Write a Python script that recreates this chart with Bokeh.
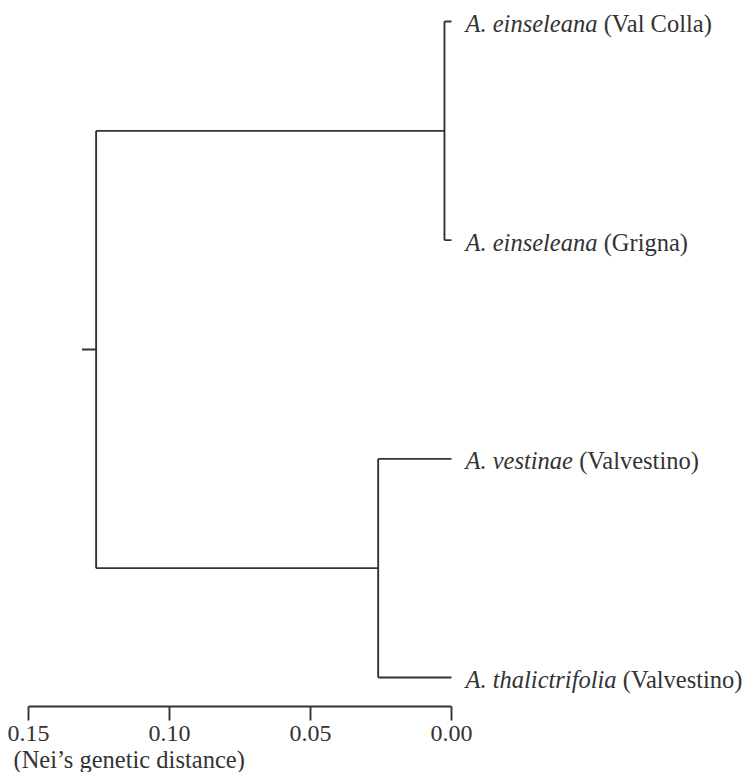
from bokeh.plotting import figure
from bokeh.models import Range1d, FixedTicker, PrintfTickFormatter, Title, ColumnDataSource
from bokeh.core.properties import value
from bokeh.embed import file_html
from bokeh.resources import INLINE

# ---- data ----
species = ["A. einseleana", "A. einseleana", "A. vestinae", "A. thalictrifolia"]
localities = ["(Val Colla)", "(Grigna)", "(Valvestino)", "(Valvestino)"]
leaf_pos = [0, 1, 2, 3]
h_einseleana = 0.0025   # A. einseleana (Val Colla) + (Grigna)
h_vest_thal = 0.026     # A. vestinae + A. thalictrifolia
h_root = 0.126          # root join
root_stub = 0.005
tick_values = [0.15, 0.10, 0.05, 0.00]
axis_title = "(Nei\u2019s genetic distance)"

# merges: (name, child a, child b, height)
merges = [("E", "L0", "L1", h_einseleana),
          ("V", "L2", "L3", h_vest_thal),
          ("R", "E", "V", h_root)]

# ---- build segments from tree ----
nodes = {f"L{i}": (leaf_pos[i], 0.0) for i in range(len(leaf_pos))}
x0, y0, x1, y1 = [], [], [], []
for name, a, b, h in merges:
    ya, ha = nodes[a]
    yb, hb = nodes[b]
    x0 += [h, ha, hb]; y0 += [ya, ya, yb]
    x1 += [h, h, h];   y1 += [yb, ya, yb]
    nodes[name] = ((ya + yb) / 2, h)
ry, rh = nodes["R"]
x0.append(rh); y0.append(ry); x1.append(rh + root_stub); y1.append(ry)

# ---- label offsets (Times-compatible italic widths, per 1000 em) ----
FS = 24.5
ital_w = {"A": 611, ".": 250, " ": 250, "e": 444, "i": 278, "n": 500, "s": 389,
          "l": 278, "a": 500, "v": 444, "t": 278, "h": 500, "c": 444, "r": 389,
          "f": 278, "o": 500}
def iw(s):
    return sum(ital_w.get(c, 500) for c in s) * FS / 1000.0

lead = 14
src = ColumnDataSource(dict(
    x=[0.0] * len(species), y=leaf_pos, sp=species, loc=localities,
    off1=[lead] * len(species),
    off2=[lead + iw(s) + 0.25 * FS for s in species]))

INK = "#333333"
p = figure(frame_width=748, frame_height=706,
           x_range=Range1d(0.1599, -0.1053), y_range=Range1d(3.1326, -0.0960),
           output_backend="svg", toolbar_location=None, min_border=0,
           y_axis_location=None)
p.xgrid.visible = False
p.ygrid.visible = False
p.outline_line_color = None
p.background_fill_color = "white"

p.segment(x0=x0, y0=y0, x1=x1, y1=y1, line_color=INK, line_width=1.9)

p.text(x="x", y="y", text="sp", x_offset="off1", y_offset=2, source=src,
       text_font=value("Liberation Serif"), text_font_style="italic",
       text_font_size=f"{FS}px", text_color=INK, text_baseline="middle")
p.text(x="x", y="y", text="loc", x_offset="off2", y_offset=2, source=src,
       text_font=value("Liberation Serif"), text_font_style="normal",
       text_font_size=f"{FS}px", text_color=INK, text_baseline="middle")

ax = p.xaxis[0]
ax.ticker = FixedTicker(ticks=tick_values)
ax.formatter = PrintfTickFormatter(format="%.2f")
ax.bounds = (0.0, 0.15)
ax.axis_line_color = INK
ax.axis_line_width = 1.9
ax.major_tick_line_color = INK
ax.major_tick_line_width = 1.9
ax.major_tick_out = 14
ax.major_tick_in = 0
ax.minor_tick_line_color = None
ax.major_label_text_font = "Liberation Serif"
ax.major_label_text_font_size = "24px"
ax.major_label_text_color = INK
ax.major_label_standoff = 5

p.add_layout(Title(text=axis_title, align="left", text_font="Liberation Serif",
                   text_font_size=f"{FS}px", text_font_style="normal",
                   text_color=INK, offset=13, standoff=0), "below")

open("out.html", "w").write(file_html(p, INLINE))
